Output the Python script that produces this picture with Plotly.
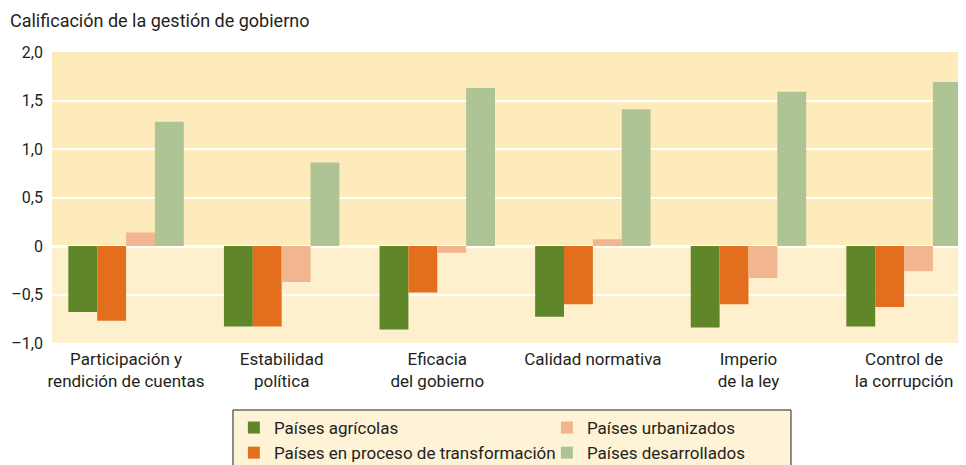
import plotly.graph_objects as go

CATEGORIES = ["Participación y<br>rendición de cuentas", "Estabilidad<br>política",
              "Eficacia<br>del gobierno", "Calidad normativa",
              "Imperio<br>de la ley", "Control de<br>la corrupción"]
AGRICOLAS = [-0.68, -0.83, -0.86, -0.73, -0.84, -0.83]
TRANSFORMACION = [-0.77, -0.83, -0.48, -0.60, -0.60, -0.63]
URBANIZADOS = [0.14, -0.37, -0.07, 0.07, -0.33, -0.26]
DESARROLLADOS = [1.28, 0.86, 1.63, 1.41, 1.59, 1.69]
Y_TICKS = [-1.0, -0.5, 0, 0.5, 1.0, 1.5, 2.0]
Y_TICKTEXT = ["–1,0", "–0,5", "0", "0,5", "1,0", "1,5", "2,0"]

FONT = "Roboto, Liberation Sans, sans-serif"
TXT = "#231F20"

series = [
    ("Países agrícolas", AGRICOLAS, "#5F872A", 1),
    ("Países en proceso de transformación", TRANSFORMACION, "#E36F1E", 3),
    ("Países urbanizados", URBANIZADOS, "#F1B68F", 2),
    ("Países desarrollados", DESARROLLADOS, "#AEC495", 4),
]

fig = go.Figure()
for name, vals, color, rank in series:
    fig.add_trace(go.Bar(x=CATEGORIES, y=vals, name=name, legendrank=rank,
                         marker=dict(color=color, line=dict(width=0))))

# two-tone plot background: upper half darker
fig.add_shape(type="rect", xref="paper", yref="y", x0=0, x1=1, y0=0, y1=2.0,
              fillcolor="#FEEBBB", line_width=0, layer="below")
# legend frame
fig.add_shape(type="rect", xref="paper", yref="paper", x0=0.198, x1=0.8085,
              y0=-0.2302, y1=-0.45, fillcolor="#FEF3D6",
              line=dict(color=TXT, width=1), layer="above")

# page has an 8px body margin, so the figure is 958x457 to fill the window
fig.update_layout(
    width=958, height=457,
    margin=dict(l=44, r=0, t=44, b=122, autoexpand=False),
    paper_bgcolor="white", plot_bgcolor="#FEF0CD",
    barmode="group", bargap=0.258, bargroupgap=0,
    font=dict(family=FONT, size=16, color=TXT),
    title=dict(text="Calificación de la gestión de gobierno", x=2/958, xanchor="left",
               y=1 - 13/457, yanchor="middle", font=dict(size=18, color=TXT)),
    legend=dict(orientation="h", x=0.199, xanchor="left", y=-0.2302, yanchor="top",
                entrywidth=268, entrywidthmode="pixels",
                bgcolor="rgba(0,0,0,0)", borderwidth=0,
                font=dict(size=17, color=TXT), tracegroupgap=0),
)
fig.update_xaxes(range=[-0.476, 5.398], showgrid=False, showline=False, ticks="",
                 ticklabelstandoff=4, tickfont=dict(size=17))
fig.update_yaxes(range=[-1.0, 2.0], tickvals=Y_TICKS, ticktext=Y_TICKTEXT,
                 showgrid=True, gridcolor="white", gridwidth=2,
                 zeroline=True, zerolinecolor="white", zerolinewidth=3,
                 showline=False, ticks="", ticklabelstandoff=8, layer="above traces",
                 tickfont=dict(size=16))

fig.write_html("out.html")
